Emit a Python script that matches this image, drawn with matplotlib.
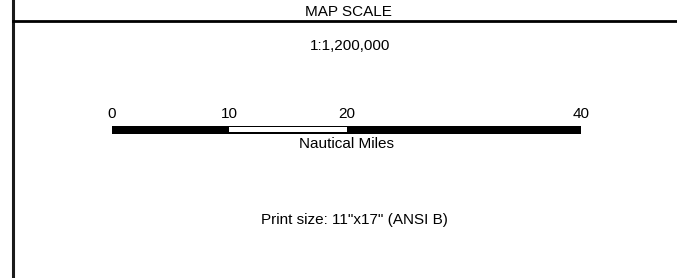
import matplotlib.pyplot as plt

plt.rcParams['font.family'] = ['Liberation Sans', 'DejaVu Sans']

title = 'MAP SCALE'
ratio = '1:1,200,000'
unit = 'Nautical Miles'
print_size = 'Print size: 11"x17" (ANSI B)'
ticks = [0, 10, 20, 40]
bar_total = 40
white_start, white_end = 10, 20

W, H = 677, 278
fs = 11
fig = plt.figure(figsize=(W / 100, H / 100), dpi=100)

# frame axes in pixel units
frame = fig.add_axes([0, 0, 1, 1])
frame.set_xlim(0, W)
frame.set_ylim(H, 0)
frame.axis('off')
frame.plot([13, 13], [0, H], color='#1a1a1a', lw=2.2)
frame.plot([13, W], [21.3, 21.3], color='black', lw=2)
frame.text(348, 11.5, title, ha='center', va='center', fontsize=fs)
frame.text(350, 46.5, ratio, ha='center', va='center', fontsize=fs)
frame.text(354.5, 220, print_size, ha='center', va='center', fontsize=fs)

# scale bar axes in miles
bar = fig.add_axes([112 / W, (H - 133.5) / H, 469 / W, 8 / H])
bar.set_xlim(0, bar_total)
bar.set_ylim(0, 1)
bar.barh(0.5, bar_total, left=0, height=1, color='black')
bar.barh(0.5, white_end - white_start, left=white_start, height=0.55,
         color='white', edgecolor='none')
for s in bar.spines.values():
    s.set_visible(False)
bar.set_yticks([])
bar.xaxis.tick_top()
bar.set_xticks(ticks)
bar.set_xticklabels([str(t) for t in ticks], fontsize=fs)
bar.tick_params(axis='x', length=0, pad=3)
bar.set_xlabel(unit, fontsize=fs, labelpad=2.5)

fig.savefig('out.png', dpi=100)
